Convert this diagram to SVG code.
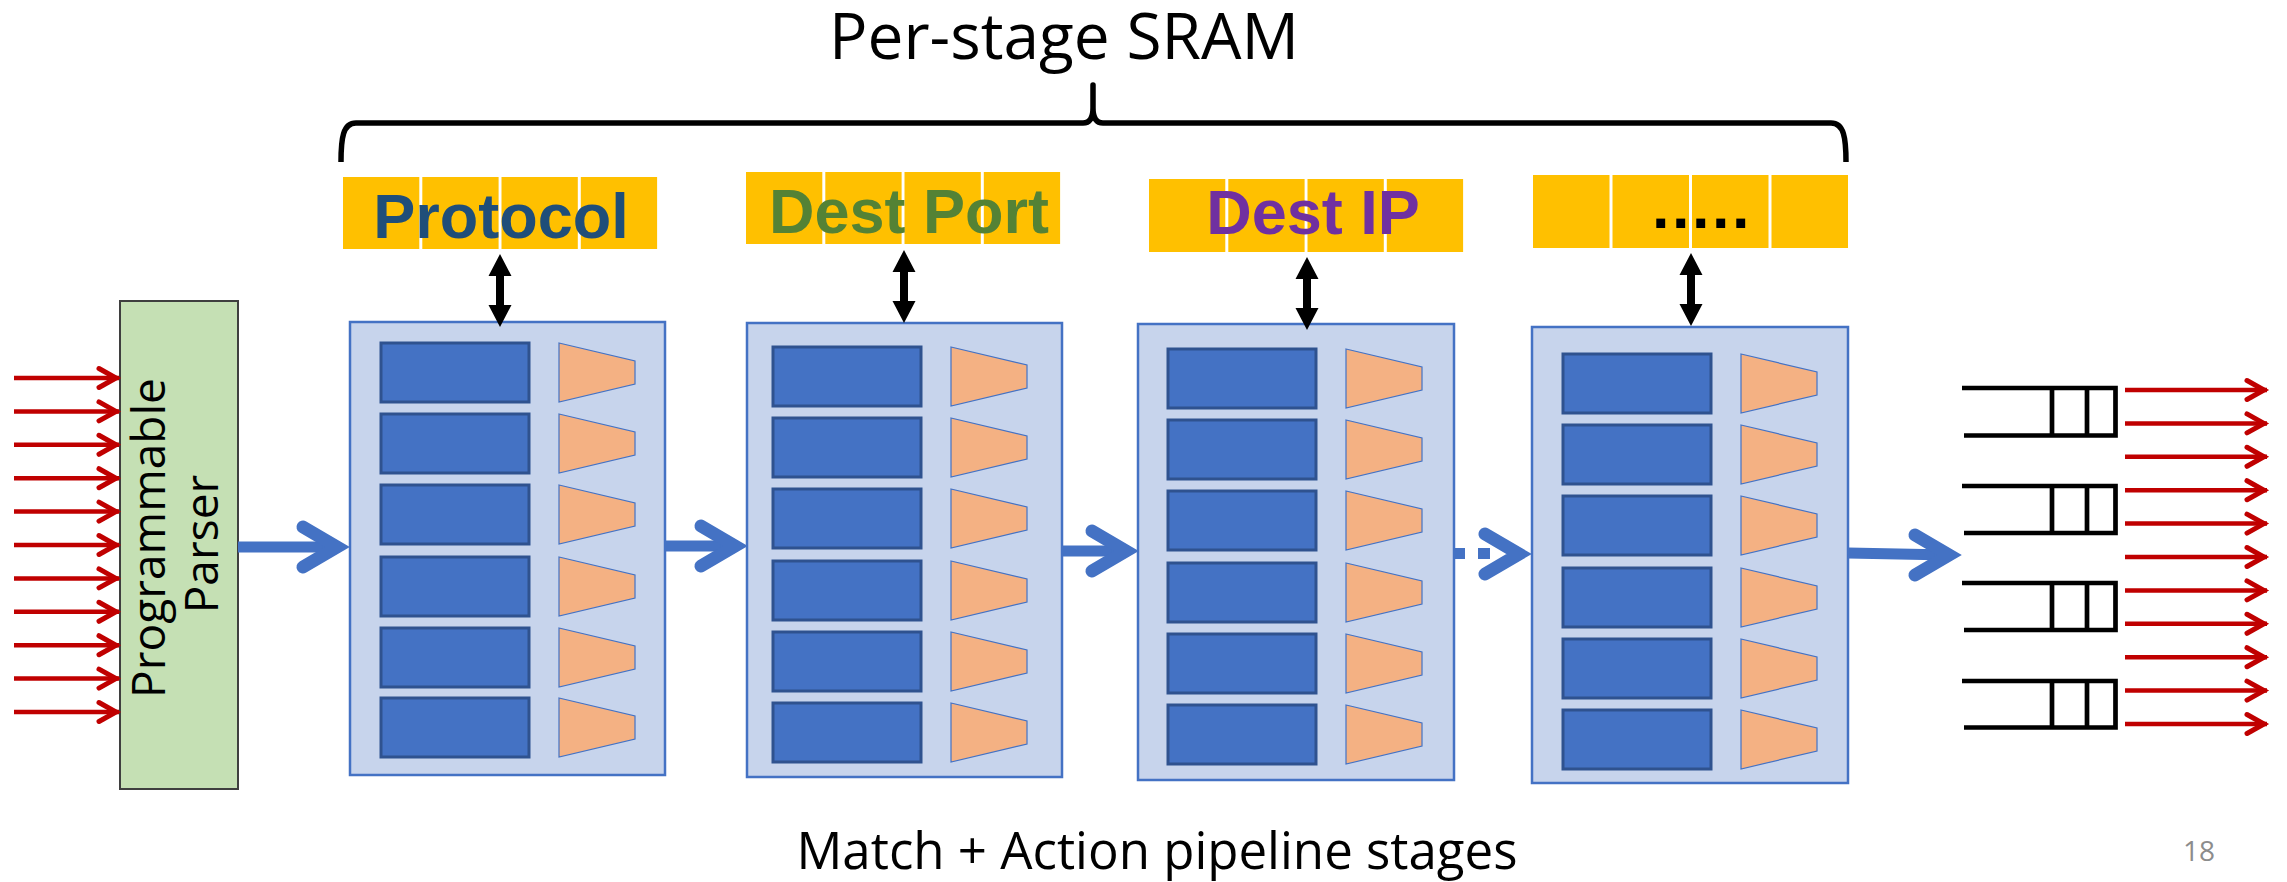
<svg xmlns="http://www.w3.org/2000/svg" width="2287" height="882" viewBox="0 0 2287 882">
  <style>
    .label { font-family: "Open Sans", "Liberation Sans", sans-serif; fill: #000; }
    .field { font-family: "Liberation Sans", Arial, sans-serif; font-weight: bold; font-size: 63px; text-anchor: middle; }
    .cell { fill: #FFC000; }
    .stage-box { fill: #C7D4EC; stroke: #4472C4; stroke-width: 2.5; }
    .tbl { fill: #4472C4; stroke: #2F528F; stroke-width: 3; }
    .act { fill: #F4B183; stroke: #4472C4; stroke-width: 1.2; }
    .flow { stroke: #4472C4; stroke-width: 11; fill: none; }
    .chev { stroke: #4472C4; stroke-width: 13; fill: none; stroke-linecap: round; stroke-linejoin: miter; }
    .pkt { stroke: #C00000; stroke-width: 4.5; fill: none; }
    .queue { stroke: #000; stroke-width: 4.7; fill: none; stroke-linejoin: miter; }
    .brace { stroke: #000; stroke-width: 5.5; fill: none; stroke-linejoin: round; }
  </style>
  <defs>
    <!-- one match table + action unit -->
    <g id="row">
      <rect class="tbl" x="0" y="0" width="148" height="59"/>
      <path class="act" d="M178,0 L254,18 L254,41 L178,59 Z"/>
    </g>
    <!-- open chevron head for the pipeline flow, tip at origin -->
    <path id="chev" d="M-46,-20 L-12,0 L-46,20"/>
    <!-- SRAM read/write double arrow -->
    <path id="dbl" d="M0,0 L11.5,22 L4,22 L4,51 L11.5,51 L0,73 L-11.5,51 L-4,51 L-4,22 L-11.5,22 Z" fill="#000"/>
    <!-- red packet arrow head -->
    <marker id="pktHead" markerUnits="userSpaceOnUse" viewBox="-26 -16 32 32" refX="0" refY="0" markerWidth="32" markerHeight="32" orient="auto">
      <path d="M-20,-9.5 L-3,0 L-20,9.5" stroke="#C00000" stroke-width="5" fill="none" stroke-linecap="round"/>
    </marker>
  </defs>

  <!-- title and brace -->
  <g id="title">
    <text class="label" x="1064" y="59" font-size="64" text-anchor="middle">Per-stage SRAM</text>
    <path class="brace" d="M341,162 C341,138 343,123 356,123 L1083,123 C1090,123 1093,118 1093,108 L1093,85 L1093,108 C1093,118 1096,123 1103,123 L1831,123 C1844,123 1846,138 1846,162"/>
  </g>

  <!-- per-stage memory blocks -->
  <g id="sram-protocol">
    <rect class="cell" x="343" y="177" width="76.3" height="72"/>
    <rect class="cell" x="422.3" y="177" width="76.3" height="72"/>
    <rect class="cell" x="501.5" y="177" width="76.3" height="72"/>
    <rect class="cell" x="580.8" y="177" width="76.3" height="72"/>
    <text class="field" x="501" y="238" fill="#1F4E79">Protocol</text>
  </g>
  <g id="sram-destport">
    <rect class="cell" x="746" y="172" width="76.3" height="72"/>
    <rect class="cell" x="825.3" y="172" width="76.3" height="72"/>
    <rect class="cell" x="904.5" y="172" width="76.3" height="72"/>
    <rect class="cell" x="983.8" y="172" width="76.3" height="72"/>
    <text class="field" x="909" y="233" fill="#548235">Dest Port</text>
  </g>
  <g id="sram-destip">
    <rect class="cell" x="1149" y="179" width="76.3" height="73"/>
    <rect class="cell" x="1228.3" y="179" width="76.3" height="73"/>
    <rect class="cell" x="1307.5" y="179" width="76.3" height="73"/>
    <rect class="cell" x="1386.8" y="179" width="76.3" height="73"/>
    <text class="field" x="1313" y="234" fill="#7030A0">Dest IP</text>
  </g>
  <g id="sram-more">
    <rect class="cell" x="1533" y="175" width="76.5" height="73"/>
    <rect class="cell" x="1612.5" y="175" width="76.5" height="73"/>
    <rect class="cell" x="1692" y="175" width="76.5" height="73"/>
    <rect class="cell" x="1771.5" y="175" width="76.5" height="73"/>
    <text class="field" x="1702" y="228" fill="#000" letter-spacing="2.5">.....</text>
  </g>

  <!-- parser -->
  <g id="parser">
    <rect x="120" y="301" width="118" height="488" fill="#C5E0B4" stroke="#3F3F3F" stroke-width="2"/>
    <text class="label" font-size="46" text-anchor="middle" transform="translate(165,538) rotate(-90)">Programmable</text>
    <text class="label" font-size="46" text-anchor="middle" transform="translate(218,544) rotate(-90)">Parser</text>
  </g>

  <!-- match + action stages -->
  <g id="stage1">
    <rect class="stage-box" x="350" y="322" width="315" height="453"/>
    <use href="#row" x="381" y="343"/>
    <use href="#row" x="381" y="414"/>
    <use href="#row" x="381" y="485"/>
    <use href="#row" x="381" y="557"/>
    <use href="#row" x="381" y="628"/>
    <use href="#row" x="381" y="698"/>
  </g>
  <g id="stage2">
    <rect class="stage-box" x="747" y="323" width="315" height="454"/>
    <use href="#row" x="773" y="347"/>
    <use href="#row" x="773" y="418"/>
    <use href="#row" x="773" y="489"/>
    <use href="#row" x="773" y="561"/>
    <use href="#row" x="773" y="632"/>
    <use href="#row" x="773" y="703"/>
  </g>
  <g id="stage3">
    <rect class="stage-box" x="1138" y="324" width="316" height="456"/>
    <use href="#row" x="1168" y="349"/>
    <use href="#row" x="1168" y="420"/>
    <use href="#row" x="1168" y="491"/>
    <use href="#row" x="1168" y="563"/>
    <use href="#row" x="1168" y="634"/>
    <use href="#row" x="1168" y="705"/>
  </g>
  <g id="stage4">
    <rect class="stage-box" x="1532" y="327" width="316" height="456"/>
    <use href="#row" x="1563" y="354"/>
    <use href="#row" x="1563" y="425"/>
    <use href="#row" x="1563" y="496"/>
    <use href="#row" x="1563" y="568"/>
    <use href="#row" x="1563" y="639"/>
    <use href="#row" x="1563" y="710"/>
  </g>

  <!-- output queues -->
  <g id="queues">
    <path class="queue" d="M1962,388 H2115.5 V435.5 H1964 M2052,388 V435.5 M2087,388 V435.5"/>
    <path class="queue" d="M1962,486 H2115.5 V533 H1964 M2052,486 V533 M2087,486 V533"/>
    <path class="queue" d="M1962,583 H2115.5 V630 H1964 M2052,583 V630 M2087,583 V630"/>
    <path class="queue" d="M1962,681 H2115.5 V727.5 H1964 M2052,681 V727.5 M2087,681 V727.5"/>
  </g>

  <g id="connectors">
    <!-- incoming packets -->
    <g marker-end="url(#pktHead)" class="pkt">
      <path d="M14,378 H119"/>
      <path d="M14,411.4 H119"/>
      <path d="M14,444.8 H119"/>
      <path d="M14,478.2 H119"/>
      <path d="M14,511.6 H119"/>
      <path d="M14,545 H119"/>
      <path d="M14,578.4 H119"/>
      <path d="M14,611.8 H119"/>
      <path d="M14,645.2 H119"/>
      <path d="M14,678.6 H119"/>
      <path d="M14,712 H119"/>
    </g>
    <!-- outgoing packets -->
    <g marker-end="url(#pktHead)" class="pkt">
      <path d="M2125,390 H2267"/>
      <path d="M2125,423.4 H2267"/>
      <path d="M2125,456.8 H2267"/>
      <path d="M2125,490.2 H2267"/>
      <path d="M2125,523.6 H2267"/>
      <path d="M2125,557 H2267"/>
      <path d="M2125,590.4 H2267"/>
      <path d="M2125,623.8 H2267"/>
      <path d="M2125,657.2 H2267"/>
      <path d="M2125,690.6 H2267"/>
      <path d="M2125,724 H2267"/>
    </g>

    <!-- pipeline flow -->
    <path class="flow" d="M238,547 H337"/>
    <use href="#chev" class="chev" transform="translate(349,547)"/>
    <path class="flow" d="M665,546 H735"/>
    <use href="#chev" class="chev" transform="translate(747,546)"/>
    <path class="flow" d="M1062,551 H1126"/>
    <use href="#chev" class="chev" transform="translate(1138,551)"/>
    <path class="flow" d="M1453,553.5 H1490" stroke-dasharray="12 13"/>
    <use href="#chev" class="chev" transform="translate(1531,554)"/>
    <path class="flow" d="M1848,553 L1949,555"/>
    <use href="#chev" class="chev" transform="translate(1961,555)"/>

    <!-- stage to SRAM access -->
    <use href="#dbl" transform="translate(500,254)"/>
    <use href="#dbl" transform="translate(904,250)"/>
    <use href="#dbl" transform="translate(1307,257)"/>
    <use href="#dbl" transform="translate(1691,253)"/>
  </g>

  <!-- caption and slide number -->
  <text class="label" x="1157" y="869" font-size="51" text-anchor="middle">Match + Action pipeline stages</text>
  <text x="2183" y="861" font-family="'Open Sans', 'Liberation Sans', sans-serif" font-size="28" fill="#8C8C8C">18</text>
</svg>
